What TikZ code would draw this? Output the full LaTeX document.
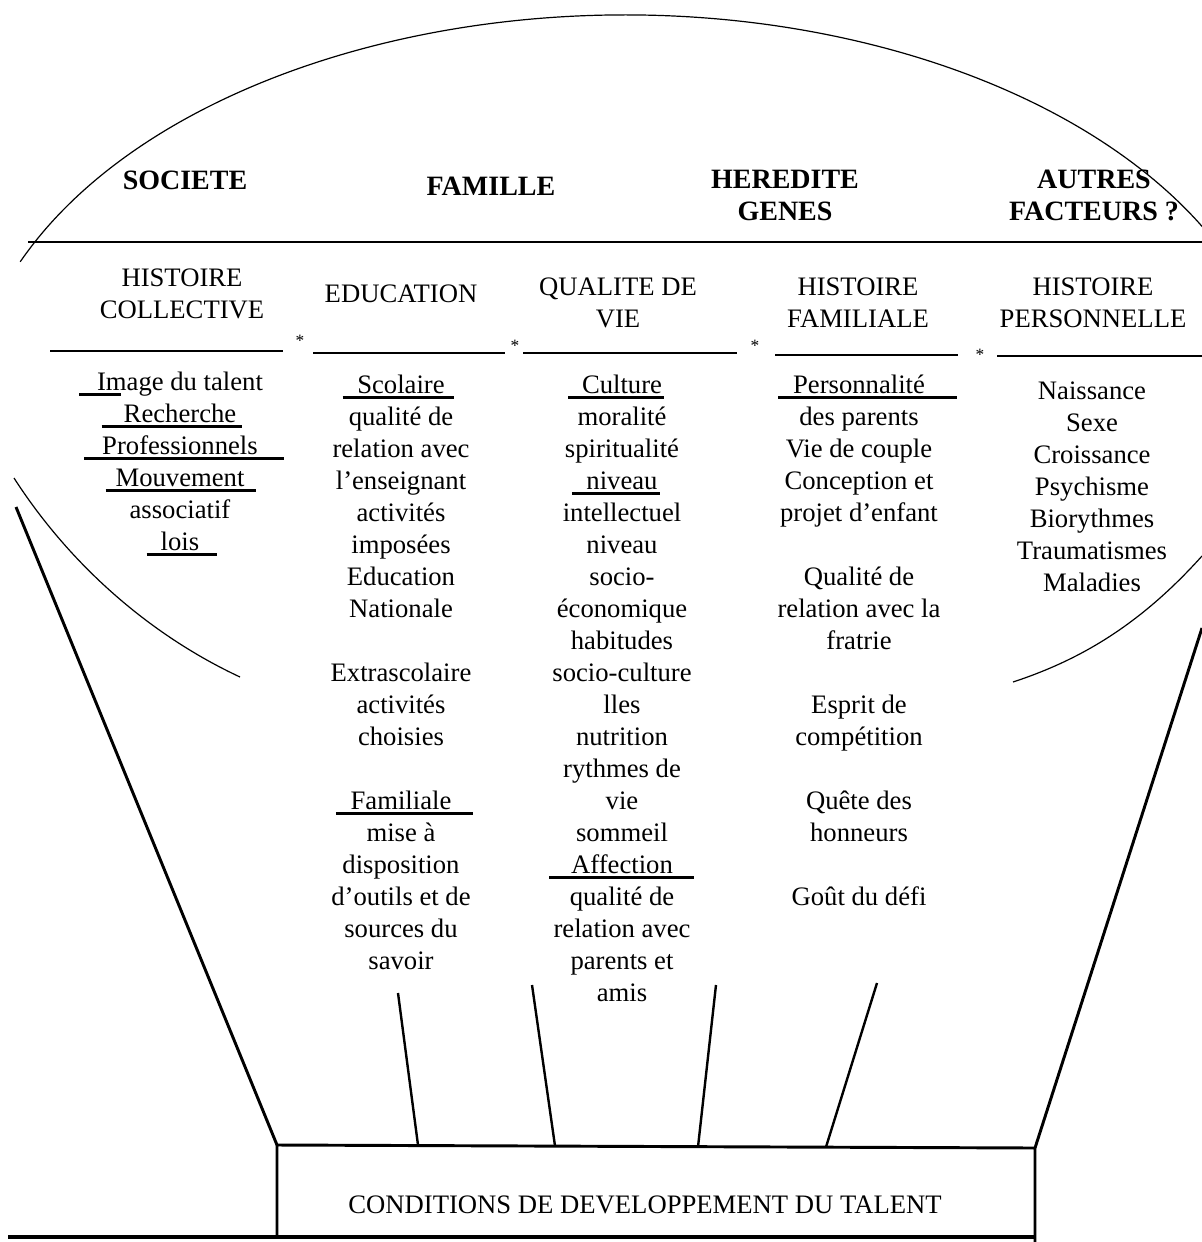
\documentclass[tikz,border=0pt]{standalone}
\usepackage{fontspec}
\setmainfont{Liberation Serif}
\usetikzlibrary{positioning}
% soulignement epais, deborde a gauche (#1) et a droite (#2)
\newcommand{\trait}[3]{\setbox0\hbox{#3}\rlap{\kern-#1\rule[-3.6pt]{\dimexpr\wd0+#1+#2\relax}{2pt}}\box0}

\begin{document}
\begin{tikzpicture}[x=0.75pt,y=0.75pt,yscale=-1,xscale=1,
  facteur/.style={inner sep=0pt,align=center,font=\fontsize{21}{24}\selectfont\bfseries},
  rubrique/.style={inner sep=0pt,align=center,font=\fontsize{20}{24}\selectfont},
  colonne/.style={anchor=north,inner sep=0pt,align=center,font=\fontsize{20}{24}\selectfont},
  etoile/.style={inner sep=0pt,font=\fontsize{13}{13}\selectfont},
  trait fin/.style={line width=0.9pt},
  trait gras/.style={line width=2.2pt},
  lien/.style={line width=1.8pt}]
\useasboundingbox (0,0) rectangle (1202,1242);

%Arc du haut
\draw[trait fin] (625,420) ++(203:657 and 405) arc (203:334:657 and 405);
%Arcs du bas
\draw[trait fin] (14,478) .. controls (70,565) and (150,635) .. (240,677);
\draw[trait fin] (1202,556) .. controls (1140,625) and (1080,660) .. (1013,682);
%Ligne horizontale
\draw[trait fin] (28,242) -- (1202,242);
%Separateurs
\draw[trait fin] (50,351) -- (283,351);
\draw[trait fin] (313,353) -- (505,353);
\draw[trait fin] (523,353) -- (737,353);
\draw[trait fin] (775,355) -- (958,355);
\draw[trait fin] (997,356) -- (1202,356);

%Entonnoir et cadre
\draw[trait gras] (16,507) -- (277,1145);
\draw[trait gras] (1202,628) -- (1035,1148);
\draw[trait gras] (277,1237) -- (277,1145) -- (1035,1148) -- (1035,1242);
\draw[line width=2.6pt] (8,1237) -- (1035,1237);

% Facteurs
\node[facteur] (societe) at (185,180) {SOCIETE};
\node[facteur] (famille) at (491,186) {FAMILLE};
\node[facteur,anchor=north] (heredite) at (785,170) {HEREDITE\\GENES};
\node[facteur,anchor=north] (autres) at (1094,170) {AUTRES\\FACTEURS ?};

% Rubriques
\node[rubrique,anchor=north] (collective) at (182,269) {HISTOIRE\\COLLECTIVE};
\node[rubrique] (education) at (401,294) {EDUCATION};
\node[rubrique,anchor=north] (qualite) at (618,278) {QUALITE DE\\VIE};
\node[rubrique,anchor=north] (familiale) at (858,278) {HISTOIRE\\FAMILIALE};
\node[rubrique,anchor=north] (personnelle) at (1093,278) {HISTOIRE\\PERSONNELLE};

% Etoiles
\node[etoile] (e1) at (300,341) {*};
\node[etoile] (e2) at (515,346) {*};
\node[etoile] (e3) at (755,346) {*};
\node[etoile] (e4) at (980,355) {*};

% Colonnes
\node[colonne] (col1) at (180,372) {\trait{13.5pt}{-4pt}{Im}age du talent\\ \trait{16.5pt}{4.5pt}{Recherche}\\ \trait{13.5pt}{20pt}{Professionnels}\\ \trait{7.5pt}{9pt}{Mouvement}\\ associatif\\ \trait{10.5pt}{13.5pt}{lois}};
\node[colonne] (col2) at (401,375) {\trait{11pt}{7pt}{Scolaire}\\ qualité de\\ relation avec\\ l'enseignant\\ activités\\ imposées\\ Education\\ Nationale\\[24pt] Extrascolaire\\ activités\\ choisies\\[24pt] \trait{11pt}{16pt}{Familiale}\\ mise à\\ disposition\\ d'outils et de\\ sources du\\ savoir};
\node[colonne] (col3) at (622,375) {\trait{10.5pt}{1.5pt}{Culture}\\ moralité\\ spiritualité\\ \trait{11pt}{1.5pt}{niveau}\\ intellectuel\\ niveau\\ socio-\\ économique\\ habitudes\\ socio-culture\\ lles\\ nutrition\\ rythmes de\\ vie\\ sommeil\\ \trait{16.5pt}{16pt}{Affection}\\ qualité de\\ relation avec\\ parents et\\ amis};
\node[colonne] (col4) at (859,375) {\trait{11pt}{24pt}{Personnalité}\\ des parents\\ Vie de couple\\ Conception et\\ projet d'enfant\\[24pt] Qualité de\\ relation avec la\\ fratrie\\[24pt] Esprit de\\ compétition\\[24pt] Quête des\\ honneurs\\[24pt] Goût du défi};
\node[colonne] (col5) at (1092,382) {Naissance\\ Sexe\\ Croissance\\ Psychisme\\ Biorythmes\\ Traumatismes\\ Maladies};

% Cadre du bas
\node[rubrique] (conditions) at (645,1205) {CONDITIONS DE DEVELOPPEMENT DU TALENT};

% Liens vers le cadre
\coordinate (h1) at (398,993);
\coordinate (b1) at (418,1145);
\coordinate (h2) at (532,985);
\coordinate (b2) at (555,1146);
\coordinate (h3) at (716,985);
\coordinate (b3) at (698,1147);
\coordinate (h4) at (877,983);
\coordinate (b4) at (826,1147);
\draw[lien] (h1) -- (b1);
\draw[lien] (h2) -- (b2);
\draw[lien] (h3) -- (b3);
\draw[lien] (h4) -- (b4);

\end{tikzpicture}
\end{document}
